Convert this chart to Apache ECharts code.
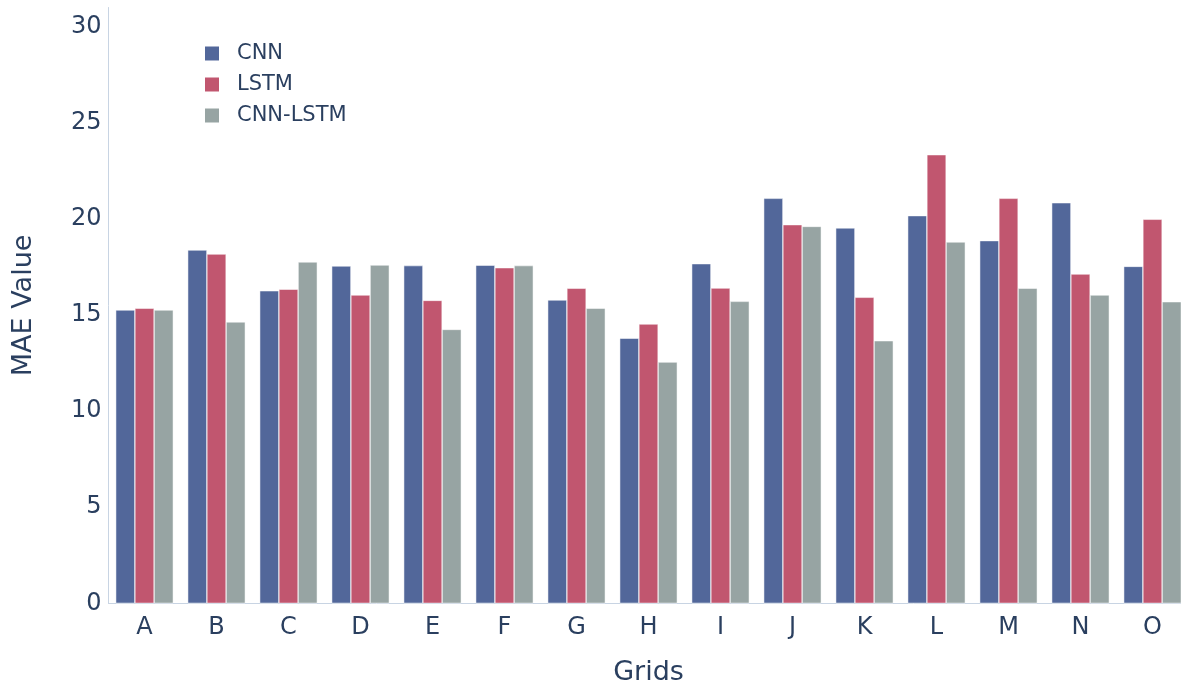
<!DOCTYPE html>
<html>
<head>
<meta charset="utf-8">
<script src="https://cdn.jsdelivr.net/npm/echarts@6/dist/echarts.min.js"></script>
<style>
html,body{margin:0;padding:0;background:#fff;}
#chart{width:1181px;height:687px;}
</style>
</head>
<body>
<div id="chart"></div>
<script>
const categories = ['A','B','C','D','E','F','G','H','I','J','K','L','M','N','O'];
const cnn     = [15.26, 18.38, 16.26, 17.55, 17.57, 17.59, 15.78, 13.79, 17.67, 21.07, 19.53, 20.17, 18.87, 20.84, 17.53];
const lstm    = [15.35, 18.17, 16.34, 16.04, 15.76, 17.46, 16.39, 14.53, 16.40, 19.70, 15.92, 23.34, 21.07, 17.13, 19.98];
const cnnLstm = [15.26, 14.64, 17.76, 17.60, 14.25, 17.57, 15.35, 12.55, 15.71, 19.61, 13.66, 18.80, 16.39, 16.04, 15.69];
const seriesNames = ['CNN', 'LSTM', 'CNN-LSTM'];
const colors = ['#52679A', '#C1566F', '#97A4A3'];

const chart = echarts.init(document.getElementById('chart'));
const textColor = '#2a3f5f';
const font = '"DejaVu Sans", Verdana, sans-serif';
const mk = (name, data, color) => ({
  name: name, type: 'bar', data: data,
  barGap: '0%', barCategoryGap: '20%',
  itemStyle: { color: color, borderColor: '#ffffff', borderWidth: 0.5 },
  emphasis: { disabled: true }
});
chart.setOption({
  animation: false,
  backgroundColor: '#ffffff',
  textStyle: { fontFamily: font },
  grid: { left: 108.5, width: 1080, top: 7.5, height: 595.8, containLabel: false, outerBoundsMode: 'none' },
  legend: {
    orient: 'vertical', left: 203, top: 43, padding: 0,
    itemWidth: 16, itemHeight: 16, itemGap: 10,
    icon: 'rect',
    data: seriesNames,
    textStyle: { color: textColor, fontSize: 21, fontFamily: font, padding: [0, 0, 0, 12] }
  },
  xAxis: {
    type: 'category', data: categories,
    name: 'Grids', nameLocation: 'middle', nameGap: 56,
    nameTextStyle: { color: textColor, fontSize: 27, fontFamily: font },
    axisLine: { show: true, lineStyle: { color: '#C8D4E3', width: 1 } },
    axisTick: { show: false },
    axisLabel: { color: textColor, fontSize: 24, fontFamily: font, margin: 12 },
    splitLine: { show: false }
  },
  yAxis: {
    type: 'value', min: 0, max: 31, interval: 5,
    name: 'MAE Value', nameLocation: 'middle', nameGap: 71,
    nameTextStyle: { color: textColor, fontSize: 27, fontFamily: font },
    axisLine: { show: true, lineStyle: { color: '#C8D4E3', width: 1 } },
    axisTick: { show: false },
    axisLabel: { color: textColor, fontSize: 24, fontFamily: font, margin: 7, showMaxLabel: false },
    splitLine: { show: false }
  },
  series: [
    mk(seriesNames[0], cnn, colors[0]),
    mk(seriesNames[1], lstm, colors[1]),
    mk(seriesNames[2], cnnLstm, colors[2])
  ]
});
</script>
</body>
</html>
